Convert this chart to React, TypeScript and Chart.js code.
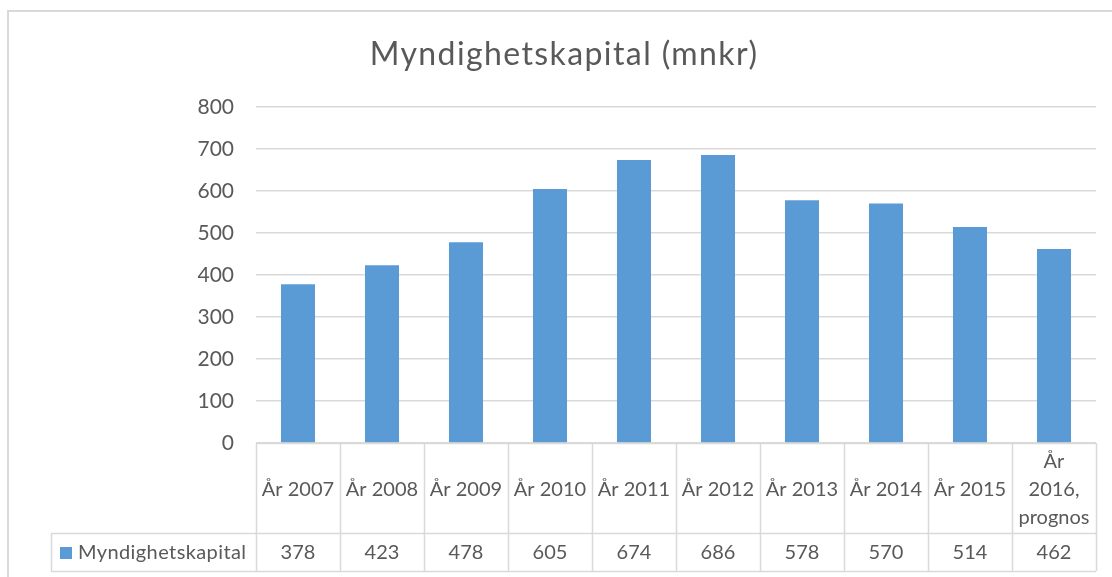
import React, { useEffect, useRef } from "react";
import { Chart, registerables } from "chart.js";

Chart.register(...registerables);

const chartTitle = "Myndighetskapital (mnkr)";
const seriesName = "Myndighetskapital";
const categories: string[][] = [
  ["År 2007"],
  ["År 2008"],
  ["År 2009"],
  ["År 2010"],
  ["År 2011"],
  ["År 2012"],
  ["År 2013"],
  ["År 2014"],
  ["År 2015"],
  ["År", "2016,", "prognos"],
];
const values = [378, 423, 478, 605, 674, 686, 578, 570, 514, 462];
const yMin = 0;
const yMax = 800;
const yStep = 100;

const FONT = "Lato, 'Open Sans', sans-serif";
const TEXT = "#595959";
const LINE = "#D9D9D9";
const BAR = "#5B9BD5";

const tablePlugin = {
  id: "dataTable",
  beforeDraw(chart: any) {
    const ctx = chart.ctx as CanvasRenderingContext2D;
    ctx.save();
    ctx.fillStyle = "#ffffff";
    ctx.fillRect(0, 0, chart.width, chart.height);
    ctx.strokeStyle = LINE;
    ctx.lineWidth = 2;
    ctx.strokeRect(8, 11, chart.width + 20, chart.height + 20);
    ctx.restore();
  },
  afterDraw(chart: any) {
    const ctx = chart.ctx as CanvasRenderingContext2D;
    const area = chart.chartArea;
    const xs = chart.scales.x;
    const n = categories.length;
    const colW = (area.right - area.left) / n;
    const top = area.bottom;
    const row1 = 533;
    const row2 = 571;
    const legendLeft = 51;

    ctx.save();
    // title
    ctx.fillStyle = TEXT;
    ctx.font = `32px ${FONT}`;
    (ctx as any).letterSpacing = "1.4px";
    ctx.textAlign = "center";
    ctx.textBaseline = "middle";
    ctx.fillText(chartTitle, 564, 55);
    (ctx as any).letterSpacing = "0px";

    // table lines
    ctx.strokeStyle = LINE;
    ctx.lineWidth = 1.5;
    ctx.beginPath();
    ctx.moveTo(area.left, top + 0.5);
    ctx.lineTo(area.right, top + 0.5);
    ctx.moveTo(legendLeft, row1 + 0.5);
    ctx.lineTo(area.right, row1 + 0.5);
    ctx.moveTo(legendLeft, row2 + 0.5);
    ctx.lineTo(area.right, row2 + 0.5);
    ctx.moveTo(legendLeft + 0.5, row1);
    ctx.lineTo(legendLeft + 0.5, row2);
    for (let i = 0; i <= n; i++) {
      const x = Math.round(area.left + i * colW) + 0.5;
      ctx.moveTo(x, top);
      ctx.lineTo(x, row2);
    }
    ctx.stroke();

    // header texts
    ctx.fillStyle = TEXT;
    ctx.font = `20px ${FONT}`;
    ctx.textAlign = "center";
    ctx.textBaseline = "middle";
    const lineH = 28;
    const headerMid = (top + row1) / 2 + 2;
    categories.forEach((lines, i) => {
      const cx = xs.getPixelForValue(i);
      const start = headerMid - ((lines.length - 1) * lineH) / 2;
      lines.forEach((t, j) => ctx.fillText(t, cx, start + j * lineH));
    });
    const valMid = (row1 + row2) / 2 + 1;
    values.forEach((v, i) => {
      ctx.fillText(String(v), xs.getPixelForValue(i), valMid);
    });

    // legend key
    ctx.fillStyle = BAR;
    ctx.fillRect(60, valMid - 6, 12, 12);
    ctx.fillStyle = TEXT;
    ctx.textAlign = "left";
    (ctx as any).letterSpacing = "0.4px";
    ctx.fillText(seriesName, 78, valMid);
    ctx.restore();
  },
};

export default function App() {
  const ref = useRef<HTMLCanvasElement | null>(null);
  useEffect(() => {
    if (!ref.current) return;
    const chart = new Chart(ref.current, {
      type: "bar",
      data: {
        labels: categories.map((c) => c.join(" ")),
        datasets: [
          {
            label: seriesName,
            data: values,
            backgroundColor: BAR,
            borderWidth: 0,
            categoryPercentage: 1,
            barPercentage: 0.405,
          },
        ],
      },
      options: {
        animation: false,
        responsive: false,
        devicePixelRatio: 1,
        layout: { padding: { top: 107, bottom: 134, left: 0, right: 16 } },
        plugins: {
          legend: { display: false },
          title: { display: false },
          tooltip: { enabled: false },
        },
        scales: {
          x: { display: false, offset: true },
          y: {
            min: yMin,
            max: yMax,
            border: { display: false },
            grid: { color: LINE, lineWidth: 1.5, drawTicks: false },
            ticks: {
              stepSize: yStep,
              padding: 22,
              color: TEXT,
              font: { family: FONT, size: 21 },
            },
            afterFit(scale: any) {
              scale.width = 256;
            },
          },
        },
      },
      plugins: [tablePlugin],
    });
    return () => chart.destroy();
  }, []);
  return (
    <div style={{ position: "fixed", left: 0, top: 0, width: 1112, height: 577 }}>
      <canvas ref={ref} width={1112} height={577} style={{ display: "block" }} />
    </div>
  );
}
